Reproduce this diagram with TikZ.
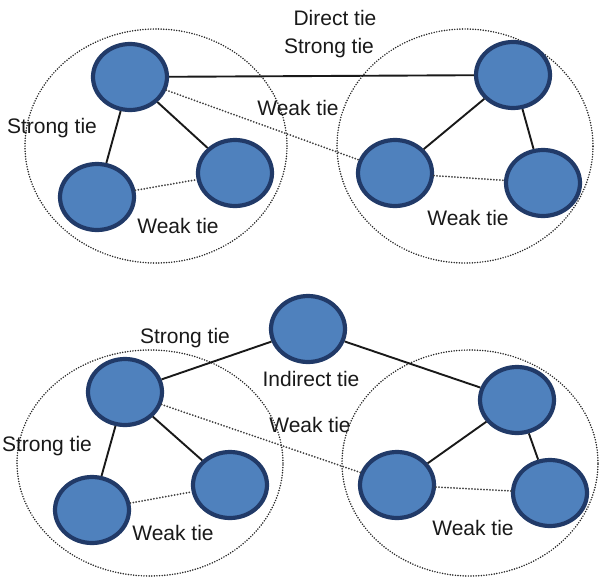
\documentclass[tikz,border=0pt]{standalone}
\usepackage{fontspec}
\setmainfont{Liberation Sans}
\usepackage{tikz}
\usetikzlibrary{positioning,shapes.geometric}
\definecolor{actorfill}{RGB}{79,129,189}
\definecolor{actordraw}{RGB}{33,58,104}

\begin{document}
\begin{tikzpicture}[x=1pt,y=-1pt,
    actor/.style={ellipse,draw=actordraw,fill=actorfill,line width=4.2pt,minimum width=74pt,minimum height=66pt,inner sep=0pt},
    strongtie/.style={line width=1.9pt,black!90},
    weaktie/.style={line width=2pt,black!75,line cap=round,dash pattern=on 0pt off 3pt},
    group/.style={line width=1.7pt,black!85,line cap=round,dash pattern=on 0pt off 2.6pt},
    lbl/.style={font=\fontsize{21}{24}\selectfont,text=black!90,inner sep=0pt}]
  \useasboundingbox (0,0) rectangle (602,578);
  % groups
  \draw[group] (156,146) ellipse [x radius=131pt,y radius=117pt];
  \draw[group] (465,146) ellipse [x radius=128pt,y radius=117pt];
  \draw[group] (150,463) ellipse [x radius=133pt,y radius=113pt];
  \draw[group] (470,463) ellipse [x radius=128pt,y radius=113pt];
  % direct tie
  \node[actor](a1) at (130,77){};
  \node[actor](a2) at (97,197){};
  \node[actor](a3) at (235,173){};
  \node[actor](b1) at (513,75){};
  \node[actor](b2) at (395,173){};
  \node[actor](b3) at (543,183){};
  \draw[strongtie] (a1) -- (b1);
  \draw[weaktie] (a1) -- (b2);
  \draw[strongtie] (a1) -- (a2);
  \draw[strongtie] (a1) -- (a3);
  \draw[weaktie] (a2) -- (a3);
  \draw[strongtie] (b1) -- (b2);
  \draw[strongtie] (b1) -- (b3);
  \draw[weaktie] (b2) -- (b3);
  \node[lbl](t1) at (335,18){Direct tie};
  \node[lbl](t2) at (329,48){Strong tie};
  \node[lbl](t3) at (298,108){Weak tie};
  \node[lbl](t4) at (52,128){Strong tie};
  \node[lbl](t5) at (178,226){Weak tie};
  \node[lbl](t6) at (468,218){Weak tie};
  % indirect tie
  \node[actor](c0) at (308,329){};
  \node[actor](c1) at (125,392){};
  \node[actor](c2) at (92,510){};
  \node[actor](c3) at (230,485){};
  \node[actor](d1) at (517,400){};
  \node[actor](d2) at (397,485){};
  \node[actor](d3) at (550,493){};
  \draw[strongtie] (c0) -- (c1);
  \draw[strongtie] (c0) -- (d1);
  \draw[weaktie] (c1) -- (d2);
  \draw[strongtie] (c1) -- (c2);
  \draw[strongtie] (c1) -- (c3);
  \draw[weaktie] (c2) -- (c3);
  \draw[strongtie] (d1) -- (d2);
  \draw[strongtie] (d1) -- (d3);
  \draw[weaktie] (d2) -- (d3);
  \node[lbl](u1) at (185,338){Strong tie};
  \node[lbl](u2) at (311,379){Indirect tie};
  \node[lbl](u3) at (310,425){Weak tie};
  \node[lbl](u4) at (47,446){Strong tie};
  \node[lbl](u5) at (173,533){Weak tie};
  \node[lbl](u6) at (473,528){Weak tie};
\end{tikzpicture}
\end{document}
